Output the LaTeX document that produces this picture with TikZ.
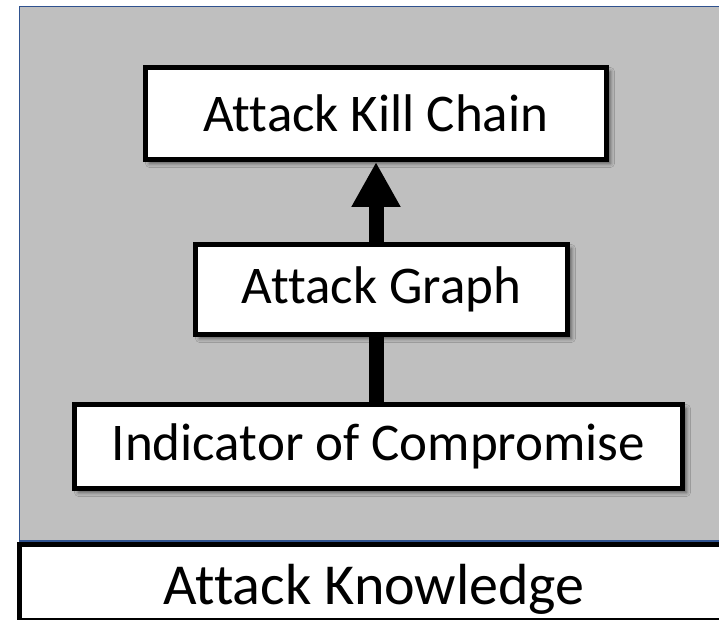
\documentclass[tikz,border=0pt]{standalone}
\usepackage{fontspec}
\setmainfont{Carlito}[Ligatures=NoCommon]
\usetikzlibrary{arrows.meta,shadows.blur}
\definecolor{panelgray}{HTML}{BFBFBF}
\definecolor{panelblue}{HTML}{2F528F}
\tikzset{
  labeltext/.style={font=\fontsize{53}{60}\selectfont},
  layerbox/.style={labeltext, draw=black, line width=5pt, fill=white, inner sep=0pt,
    blur shadow={shadow xshift=4pt, shadow yshift=-4pt, shadow blur radius=4pt, shadow opacity=55}},
  link/.style={line width=15pt, draw=black},
  uplink/.style={link, -{Triangle[width=46pt,length=45pt]}}
}
\begin{document}
\begin{tikzpicture}[x=1pt,y=-1pt]
  \useasboundingbox (0,0) rectangle (719,620);
  % grey panel
  \path[fill=panelgray, draw=panelblue, line width=1.5pt] (19.5,6.5) rectangle (730,541);
  % base layer
  \draw[line width=5pt, fill=white] (19.5,544.5) rectangle (730,620.5);
  \node[font=\fontsize{58}{64}\selectfont, anchor=base, inner sep=0pt] (base) at (374,604) {Attack Knowledge};
  % stacked layers
  \node[layerbox, minimum width=461pt, minimum height=92pt] (kc) at (376,113.5) {Attack Kill Chain};
  \node[layerbox, minimum width=372pt, minimum height=90pt] (graph) at (381.5,289.5) {Attack Graph};
  \node[layerbox, minimum width=608pt, minimum height=84pt] (ioc) at (378.5,446.5) {Indicator of Compromise};
  % connectors
  \draw[link] (ioc.north -| kc.south) -- (graph.south -| kc.south);
  \draw[uplink] (graph.north -| kc.south) -- (kc.south);
\end{tikzpicture}
\end{document}
